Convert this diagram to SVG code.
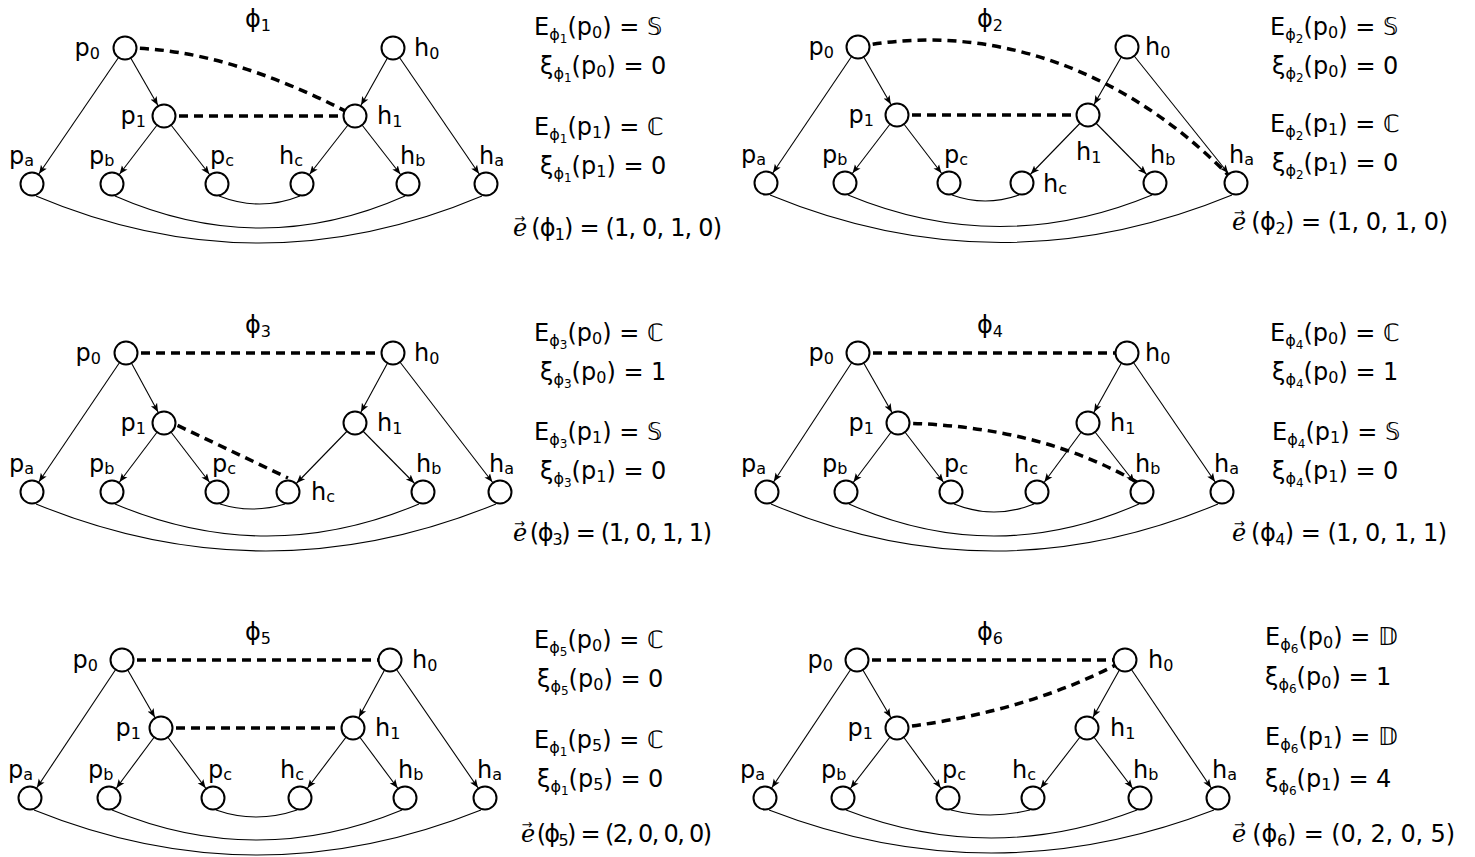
<svg xmlns="http://www.w3.org/2000/svg" width="1475" height="857" viewBox="0 0 1475 857">
<style>
  .t { font-family: "DejaVu Sans", "Noto Sans", sans-serif; font-size: 24px; fill: #000; }
  .s { font-size: 16px; }
  .ss { font-size: 12px; }
  .ev { font-family: "DejaVu Serif", "Liberation Serif", serif; font-style: italic; }
  .arw { font-family: "DejaVu Sans", sans-serif; font-size: 13px; }
  .n circle { fill: #fff; stroke: #000; stroke-width: 2; }
  .e { stroke: #000; stroke-width: 1.1; fill: none; marker-end: url(#arr); }
  .m { stroke: #000; stroke-width: 3.5; fill: none; stroke-dasharray: 9 6; }
  .b { stroke: #000; stroke-width: 1.1; fill: none; }
</style>
<defs>
  <marker id="arr" markerUnits="userSpaceOnUse" markerWidth="30" markerHeight="12" viewBox="0 -6 30 12" refX="21" refY="0" orient="auto">
    <path d="M0,-3.5 L8.5,0 L0,3.5 L2,0 Z" fill="#000"/>
  </marker>
</defs>

<!-- ===== connectors ===== -->
<g id="connectors">
  <!-- phi1 -->
  <line class="e" x1="125" y1="48" x2="32" y2="184"/>
  <line class="e" x1="125" y1="48" x2="164" y2="116"/>
  <line class="e" x1="164" y1="116" x2="112" y2="184"/>
  <line class="e" x1="164" y1="116" x2="217" y2="184"/>
  <line class="e" x1="393" y1="48" x2="355" y2="116"/>
  <line class="e" x1="393" y1="48" x2="486" y2="184"/>
  <line class="e" x1="355" y1="116" x2="302" y2="184"/>
  <line class="e" x1="355" y1="116" x2="408" y2="184"/>
  <path class="b" d="M36,196 Q259,290 482,196"/>
  <path class="b" d="M115,196 Q261,260 405,196"/>
  <path class="b" d="M219,196 Q260,212 300,196"/>
  <path class="m" d="M125,48 Q226,48 355,116"/>
  <path class="m" d="M164,116 L355,116"/>

  <!-- phi2 -->
  <line class="e" x1="858" y1="47" x2="766" y2="183"/>
  <line class="e" x1="858" y1="47" x2="897" y2="115"/>
  <line class="e" x1="897" y1="115" x2="845" y2="183"/>
  <line class="e" x1="897" y1="115" x2="949" y2="183"/>
  <line class="e" x1="1127" y1="47" x2="1088" y2="115"/>
  <line class="e" x1="1127" y1="47" x2="1236" y2="183"/>
  <line class="e" x1="1088" y1="115" x2="1022" y2="183"/>
  <line class="e" x1="1088" y1="115" x2="1155" y2="183"/>
  <path class="b" d="M770,195 Q1001,290 1232,195"/>
  <path class="b" d="M848,195 Q1000,258 1152,195"/>
  <path class="b" d="M952,195 Q985,207 1019,195"/>
  <path class="m" d="M858,47 C950,28 1100,40 1236,183"/>
  <path class="m" d="M897,115 L1088,115"/>

  <!-- phi3 -->
  <line class="e" x1="126" y1="353" x2="32" y2="492"/>
  <line class="e" x1="126" y1="353" x2="164" y2="423"/>
  <line class="e" x1="164" y1="423" x2="112" y2="492"/>
  <line class="e" x1="164" y1="423" x2="217" y2="492"/>
  <line class="e" x1="393" y1="353" x2="355" y2="423"/>
  <line class="e" x1="393" y1="353" x2="500" y2="492"/>
  <line class="e" x1="355" y1="423" x2="288" y2="492"/>
  <line class="e" x1="355" y1="423" x2="423" y2="492"/>
  <path class="b" d="M36,504 Q266,598 496,504"/>
  <path class="b" d="M115,504 Q267,568 419,504"/>
  <path class="b" d="M220,504 Q252,514 285,504"/>
  <path class="m" d="M126,353 L393,353"/>
  <path class="m" d="M164,419 L288,478"/>

  <!-- phi4 -->
  <line class="e" x1="858" y1="353" x2="767" y2="492"/>
  <line class="e" x1="858" y1="353" x2="898" y2="423"/>
  <line class="e" x1="898" y1="423" x2="846" y2="492"/>
  <line class="e" x1="898" y1="423" x2="951" y2="492"/>
  <line class="e" x1="1127" y1="353" x2="1088" y2="423"/>
  <line class="e" x1="1127" y1="353" x2="1222" y2="492"/>
  <line class="e" x1="1088" y1="423" x2="1037" y2="492"/>
  <line class="e" x1="1088" y1="423" x2="1142" y2="492"/>
  <path class="b" d="M771,504 Q994,598 1218,504"/>
  <path class="b" d="M849,504 Q994,568 1139,504"/>
  <path class="b" d="M954,504 Q994,520 1034,504"/>
  <path class="m" d="M858,353 L1127,353"/>
  <path class="m" d="M898,423 Q1040,425 1140,484"/>

  <!-- phi5 -->
  <line class="e" x1="122" y1="660" x2="30" y2="798"/>
  <line class="e" x1="122" y1="660" x2="161" y2="728"/>
  <line class="e" x1="161" y1="728" x2="109" y2="798"/>
  <line class="e" x1="161" y1="728" x2="213" y2="798"/>
  <line class="e" x1="390" y1="660" x2="353" y2="728"/>
  <line class="e" x1="390" y1="660" x2="485" y2="798"/>
  <line class="e" x1="353" y1="728" x2="300" y2="798"/>
  <line class="e" x1="353" y1="728" x2="405" y2="798"/>
  <path class="b" d="M34,810 Q257,900 481,810"/>
  <path class="b" d="M112,810 Q257,870 402,810"/>
  <path class="b" d="M216,810 Q256,824 297,810"/>
  <path class="m" d="M122,660 L390,660"/>
  <path class="m" d="M161,728 L353,728"/>

  <!-- phi6 -->
  <line class="e" x1="857" y1="660" x2="765" y2="798"/>
  <line class="e" x1="857" y1="660" x2="897" y2="728"/>
  <line class="e" x1="897" y1="728" x2="843" y2="798"/>
  <line class="e" x1="897" y1="728" x2="948" y2="798"/>
  <line class="e" x1="1125" y1="660" x2="1087" y2="728"/>
  <line class="e" x1="1125" y1="660" x2="1218" y2="798"/>
  <line class="e" x1="1087" y1="728" x2="1033" y2="798"/>
  <line class="e" x1="1087" y1="728" x2="1140" y2="798"/>
  <path class="b" d="M769,810 Q991,896 1214,810"/>
  <path class="b" d="M846,810 Q991,866 1137,810"/>
  <path class="b" d="M951,810 Q990,820 1030,810"/>
  <path class="m" d="M857,660 L1125,660"/>
  <path class="m" d="M897,728 Q1030,712 1125,660"/>
</g>

<!-- ===== phi1 ===== -->
<g id="phi1">
  <text class="t" x="258" y="27" text-anchor="middle">ϕ<tspan class="s" dy="4">1</tspan></text>
  <g id="phi1-p0" class="n"><circle cx="125" cy="48" r="11.5"/><text class="t" x="100" y="56" text-anchor="end">p<tspan class="s" dy="3">0</tspan></text></g>
  <g id="phi1-h0" class="n"><circle cx="393" cy="48" r="11.5"/><text class="t" x="414" y="56">h<tspan class="s" dy="3">0</tspan></text></g>
  <g id="phi1-p1" class="n"><circle cx="164" cy="116" r="11.5"/><text class="t" x="146" y="124" text-anchor="end">p<tspan class="s" dy="3">1</tspan></text></g>
  <g id="phi1-h1" class="n"><circle cx="355" cy="116" r="11.5"/><text class="t" x="377" y="124">h<tspan class="s" dy="3">1</tspan></text></g>
  <g id="phi1-pa" class="n"><circle cx="32" cy="184" r="11.5"/><text class="t" x="9" y="164">p<tspan class="s" dy="2">a</tspan></text></g>
  <g id="phi1-pb" class="n"><circle cx="112" cy="184" r="11.5"/><text class="t" x="89" y="164">p<tspan class="s" dy="2">b</tspan></text></g>
  <g id="phi1-pc" class="n"><circle cx="217" cy="184" r="11.5"/><text class="t" x="210" y="164">p<tspan class="s" dy="2">c</tspan></text></g>
  <g id="phi1-hc" class="n"><circle cx="302" cy="184" r="11.5"/><text class="t" x="279" y="164">h<tspan class="s" dy="2">c</tspan></text></g>
  <g id="phi1-hb" class="n"><circle cx="408" cy="184" r="11.5"/><text class="t" x="400" y="164">h<tspan class="s" dy="2">b</tspan></text></g>
  <g id="phi1-ha" class="n"><circle cx="486" cy="184" r="11.5"/><text class="t" x="479" y="164">h<tspan class="s" dy="2">a</tspan></text></g>
  <g id="phi1-eq" class="t">
    <text x="534" y="35">E<tspan class="s" dy="5">ϕ</tspan><tspan class="ss" dy="3">1</tspan><tspan dy="-8">(p</tspan><tspan class="s" dy="3">0</tspan><tspan dy="-3">) = 𝕊</tspan></text>
    <text x="540" y="74">ξ<tspan class="s" dy="5">ϕ</tspan><tspan class="ss" dy="3">1</tspan><tspan dy="-8">(p</tspan><tspan class="s" dy="3">0</tspan><tspan dy="-3">) = 0</tspan></text>
    <text x="534" y="135">E<tspan class="s" dy="5">ϕ</tspan><tspan class="ss" dy="3">1</tspan><tspan dy="-8">(p</tspan><tspan class="s" dy="3">1</tspan><tspan dy="-3">) = ℂ</tspan></text>
    <text x="540" y="174">ξ<tspan class="s" dy="5">ϕ</tspan><tspan class="ss" dy="3">1</tspan><tspan dy="-8">(p</tspan><tspan class="s" dy="3">1</tspan><tspan dy="-3">) = 0</tspan></text>
    <text x="513" y="236" textLength="209" lengthAdjust="spacing"><tspan class="ev">e</tspan><tspan class="arw" dx="-12" dy="-13">→</tspan><tspan dy="13"> (ϕ</tspan><tspan class="s" dy="4">1</tspan><tspan dy="-4">) = (1, 0, 1, 0)</tspan></text>
  </g>
</g>

<!-- ===== phi2 ===== -->
<g id="phi2">
  <text class="t" x="990" y="27" text-anchor="middle">ϕ<tspan class="s" dy="4">2</tspan></text>
  <g id="phi2-p0" class="n"><circle cx="858" cy="47" r="11.5"/><text class="t" x="834" y="55" text-anchor="end">p<tspan class="s" dy="3">0</tspan></text></g>
  <g id="phi2-h0" class="n"><circle cx="1127" cy="47" r="11.5"/><text class="t" x="1145" y="55">h<tspan class="s" dy="3">0</tspan></text></g>
  <g id="phi2-p1" class="n"><circle cx="897" cy="115" r="11.5"/><text class="t" x="874" y="123" text-anchor="end">p<tspan class="s" dy="3">1</tspan></text></g>
  <g id="phi2-h1" class="n"><circle cx="1088" cy="115" r="11.5"/><text class="t" x="1076" y="160">h<tspan class="s" dy="3">1</tspan></text></g>
  <g id="phi2-pa" class="n"><circle cx="766" cy="183" r="11.5"/><text class="t" x="741" y="163">p<tspan class="s" dy="2">a</tspan></text></g>
  <g id="phi2-pb" class="n"><circle cx="845" cy="183" r="11.5"/><text class="t" x="822" y="163">p<tspan class="s" dy="2">b</tspan></text></g>
  <g id="phi2-pc" class="n"><circle cx="949" cy="183" r="11.5"/><text class="t" x="944" y="163">p<tspan class="s" dy="2">c</tspan></text></g>
  <g id="phi2-hc" class="n"><circle cx="1022" cy="183" r="11.5"/><text class="t" x="1043" y="192">h<tspan class="s" dy="2">c</tspan></text></g>
  <g id="phi2-hb" class="n"><circle cx="1155" cy="183" r="11.5"/><text class="t" x="1150" y="163">h<tspan class="s" dy="2">b</tspan></text></g>
  <g id="phi2-ha" class="n"><circle cx="1236" cy="183" r="11.5"/><text class="t" x="1229" y="163">h<tspan class="s" dy="2">a</tspan></text></g>
  <g id="phi2-eq" class="t">
    <text x="1270" y="35">E<tspan class="s" dy="5">ϕ</tspan><tspan class="ss" dy="3">2</tspan><tspan dy="-8">(p</tspan><tspan class="s" dy="3">0</tspan><tspan dy="-3">) = 𝕊</tspan></text>
    <text x="1272" y="74">ξ<tspan class="s" dy="5">ϕ</tspan><tspan class="ss" dy="3">2</tspan><tspan dy="-8">(p</tspan><tspan class="s" dy="3">0</tspan><tspan dy="-3">) = 0</tspan></text>
    <text x="1270" y="132">E<tspan class="s" dy="5">ϕ</tspan><tspan class="ss" dy="3">2</tspan><tspan dy="-8">(p</tspan><tspan class="s" dy="3">1</tspan><tspan dy="-3">) = ℂ</tspan></text>
    <text x="1272" y="171">ξ<tspan class="s" dy="5">ϕ</tspan><tspan class="ss" dy="3">2</tspan><tspan dy="-8">(p</tspan><tspan class="s" dy="3">1</tspan><tspan dy="-3">) = 0</tspan></text>
    <text x="1232" y="230" textLength="216" lengthAdjust="spacing"><tspan class="ev">e</tspan><tspan class="arw" dx="-12" dy="-13">→</tspan><tspan dy="13"> (ϕ</tspan><tspan class="s" dy="4">2</tspan><tspan dy="-4">) = (1, 0, 1, 0)</tspan></text>
  </g>
</g>

<!-- ===== phi3 ===== -->
<g id="phi3">
  <text class="t" x="258" y="333" text-anchor="middle">ϕ<tspan class="s" dy="4">3</tspan></text>
  <g id="phi3-p0" class="n"><circle cx="126" cy="353" r="11.5"/><text class="t" x="101" y="361" text-anchor="end">p<tspan class="s" dy="3">0</tspan></text></g>
  <g id="phi3-h0" class="n"><circle cx="393" cy="353" r="11.5"/><text class="t" x="414" y="361">h<tspan class="s" dy="3">0</tspan></text></g>
  <g id="phi3-p1" class="n"><circle cx="164" cy="423" r="11.5"/><text class="t" x="146" y="431" text-anchor="end">p<tspan class="s" dy="3">1</tspan></text></g>
  <g id="phi3-h1" class="n"><circle cx="355" cy="423" r="11.5"/><text class="t" x="377" y="431">h<tspan class="s" dy="3">1</tspan></text></g>
  <g id="phi3-pa" class="n"><circle cx="32" cy="492" r="11.5"/><text class="t" x="9" y="472">p<tspan class="s" dy="2">a</tspan></text></g>
  <g id="phi3-pb" class="n"><circle cx="112" cy="492" r="11.5"/><text class="t" x="89" y="472">p<tspan class="s" dy="2">b</tspan></text></g>
  <g id="phi3-pc" class="n"><circle cx="217" cy="492" r="11.5"/><text class="t" x="212" y="472">p<tspan class="s" dy="2">c</tspan></text></g>
  <g id="phi3-hc" class="n"><circle cx="288" cy="492" r="11.5"/><text class="t" x="311" y="500">h<tspan class="s" dy="2">c</tspan></text></g>
  <g id="phi3-hb" class="n"><circle cx="423" cy="492" r="11.5"/><text class="t" x="416" y="472">h<tspan class="s" dy="2">b</tspan></text></g>
  <g id="phi3-ha" class="n"><circle cx="500" cy="492" r="11.5"/><text class="t" x="489" y="472">h<tspan class="s" dy="2">a</tspan></text></g>
  <g id="phi3-eq" class="t">
    <text x="534" y="341">E<tspan class="s" dy="5">ϕ</tspan><tspan class="ss" dy="3">3</tspan><tspan dy="-8">(p</tspan><tspan class="s" dy="3">0</tspan><tspan dy="-3">) = ℂ</tspan></text>
    <text x="540" y="380">ξ<tspan class="s" dy="5">ϕ</tspan><tspan class="ss" dy="3">3</tspan><tspan dy="-8">(p</tspan><tspan class="s" dy="3">0</tspan><tspan dy="-3">) = 1</tspan></text>
    <text x="534" y="440">E<tspan class="s" dy="5">ϕ</tspan><tspan class="ss" dy="3">3</tspan><tspan dy="-8">(p</tspan><tspan class="s" dy="3">1</tspan><tspan dy="-3">) = 𝕊</tspan></text>
    <text x="540" y="479">ξ<tspan class="s" dy="5">ϕ</tspan><tspan class="ss" dy="3">3</tspan><tspan dy="-8">(p</tspan><tspan class="s" dy="3">1</tspan><tspan dy="-3">) = 0</tspan></text>
    <text x="513" y="541" textLength="199" lengthAdjust="spacing"><tspan class="ev">e</tspan><tspan class="arw" dx="-12" dy="-13">→</tspan><tspan dy="13"> (ϕ</tspan><tspan class="s" dy="4">3</tspan><tspan dy="-4">) = (1, 0, 1, 1)</tspan></text>
  </g>
</g>

<!-- ===== phi4 ===== -->
<g id="phi4">
  <text class="t" x="990" y="333" text-anchor="middle">ϕ<tspan class="s" dy="4">4</tspan></text>
  <g id="phi4-p0" class="n"><circle cx="858" cy="353" r="11.5"/><text class="t" x="834" y="361" text-anchor="end">p<tspan class="s" dy="3">0</tspan></text></g>
  <g id="phi4-h0" class="n"><circle cx="1127" cy="353" r="11.5"/><text class="t" x="1145" y="361">h<tspan class="s" dy="3">0</tspan></text></g>
  <g id="phi4-p1" class="n"><circle cx="898" cy="423" r="11.5"/><text class="t" x="874" y="431" text-anchor="end">p<tspan class="s" dy="3">1</tspan></text></g>
  <g id="phi4-h1" class="n"><circle cx="1088" cy="423" r="11.5"/><text class="t" x="1110" y="431">h<tspan class="s" dy="3">1</tspan></text></g>
  <g id="phi4-pa" class="n"><circle cx="767" cy="492" r="11.5"/><text class="t" x="741" y="472">p<tspan class="s" dy="2">a</tspan></text></g>
  <g id="phi4-pb" class="n"><circle cx="846" cy="492" r="11.5"/><text class="t" x="822" y="472">p<tspan class="s" dy="2">b</tspan></text></g>
  <g id="phi4-pc" class="n"><circle cx="951" cy="492" r="11.5"/><text class="t" x="944" y="472">p<tspan class="s" dy="2">c</tspan></text></g>
  <g id="phi4-hc" class="n"><circle cx="1037" cy="492" r="11.5"/><text class="t" x="1014" y="472">h<tspan class="s" dy="2">c</tspan></text></g>
  <g id="phi4-hb" class="n"><circle cx="1142" cy="492" r="11.5"/><text class="t" x="1135" y="472">h<tspan class="s" dy="2">b</tspan></text></g>
  <g id="phi4-ha" class="n"><circle cx="1222" cy="492" r="11.5"/><text class="t" x="1214" y="472">h<tspan class="s" dy="2">a</tspan></text></g>
  <g id="phi4-eq" class="t">
    <text x="1270" y="341">E<tspan class="s" dy="5">ϕ</tspan><tspan class="ss" dy="3">4</tspan><tspan dy="-8">(p</tspan><tspan class="s" dy="3">0</tspan><tspan dy="-3">) = ℂ</tspan></text>
    <text x="1272" y="380">ξ<tspan class="s" dy="5">ϕ</tspan><tspan class="ss" dy="3">4</tspan><tspan dy="-8">(p</tspan><tspan class="s" dy="3">0</tspan><tspan dy="-3">) = 1</tspan></text>
    <text x="1272" y="440">E<tspan class="s" dy="5">ϕ</tspan><tspan class="ss" dy="3">4</tspan><tspan dy="-8">(p</tspan><tspan class="s" dy="3">1</tspan><tspan dy="-3">) = 𝕊</tspan></text>
    <text x="1272" y="479">ξ<tspan class="s" dy="5">ϕ</tspan><tspan class="ss" dy="3">4</tspan><tspan dy="-8">(p</tspan><tspan class="s" dy="3">1</tspan><tspan dy="-3">) = 0</tspan></text>
    <text x="1232" y="541" textLength="215" lengthAdjust="spacing"><tspan class="ev">e</tspan><tspan class="arw" dx="-12" dy="-13">→</tspan><tspan dy="13"> (ϕ</tspan><tspan class="s" dy="4">4</tspan><tspan dy="-4">) = (1, 0, 1, 1)</tspan></text>
  </g>
</g>

<!-- ===== phi5 ===== -->
<g id="phi5">
  <text class="t" x="258" y="640" text-anchor="middle">ϕ<tspan class="s" dy="4">5</tspan></text>
  <g id="phi5-p0" class="n"><circle cx="122" cy="660" r="11.5"/><text class="t" x="98" y="668" text-anchor="end">p<tspan class="s" dy="3">0</tspan></text></g>
  <g id="phi5-h0" class="n"><circle cx="390" cy="660" r="11.5"/><text class="t" x="412" y="668">h<tspan class="s" dy="3">0</tspan></text></g>
  <g id="phi5-p1" class="n"><circle cx="161" cy="728" r="11.5"/><text class="t" x="141" y="736" text-anchor="end">p<tspan class="s" dy="3">1</tspan></text></g>
  <g id="phi5-h1" class="n"><circle cx="353" cy="728" r="11.5"/><text class="t" x="375" y="736">h<tspan class="s" dy="3">1</tspan></text></g>
  <g id="phi5-pa" class="n"><circle cx="30" cy="798" r="11.5"/><text class="t" x="8" y="778">p<tspan class="s" dy="2">a</tspan></text></g>
  <g id="phi5-pb" class="n"><circle cx="109" cy="798" r="11.5"/><text class="t" x="88" y="778">p<tspan class="s" dy="2">b</tspan></text></g>
  <g id="phi5-pc" class="n"><circle cx="213" cy="798" r="11.5"/><text class="t" x="208" y="778">p<tspan class="s" dy="2">c</tspan></text></g>
  <g id="phi5-hc" class="n"><circle cx="300" cy="798" r="11.5"/><text class="t" x="280" y="778">h<tspan class="s" dy="2">c</tspan></text></g>
  <g id="phi5-hb" class="n"><circle cx="405" cy="798" r="11.5"/><text class="t" x="398" y="778">h<tspan class="s" dy="2">b</tspan></text></g>
  <g id="phi5-ha" class="n"><circle cx="485" cy="798" r="11.5"/><text class="t" x="477" y="778">h<tspan class="s" dy="2">a</tspan></text></g>
  <g id="phi5-eq" class="t">
    <text x="534" y="648">E<tspan class="s" dy="5">ϕ</tspan><tspan class="ss" dy="3">5</tspan><tspan dy="-8">(p</tspan><tspan class="s" dy="3">0</tspan><tspan dy="-3">) = ℂ</tspan></text>
    <text x="537" y="687">ξ<tspan class="s" dy="5">ϕ</tspan><tspan class="ss" dy="3">5</tspan><tspan dy="-8">(p</tspan><tspan class="s" dy="3">0</tspan><tspan dy="-3">) = 0</tspan></text>
    <text x="534" y="748">E<tspan class="s" dy="5">ϕ</tspan><tspan class="ss" dy="3">1</tspan><tspan dy="-8">(p</tspan><tspan class="s" dy="3">5</tspan><tspan dy="-3">) = ℂ</tspan></text>
    <text x="537" y="787">ξ<tspan class="s" dy="5">ϕ</tspan><tspan class="ss" dy="3">1</tspan><tspan dy="-8">(p</tspan><tspan class="s" dy="3">5</tspan><tspan dy="-3">) = 0</tspan></text>
    <text x="521" y="842" textLength="191" lengthAdjust="spacing"><tspan class="ev">e</tspan><tspan class="arw" dx="-12" dy="-13">→</tspan><tspan dy="13"> (ϕ</tspan><tspan class="s" dy="4">5</tspan><tspan dy="-4">) = (2, 0, 0, 0)</tspan></text>
  </g>
</g>

<!-- ===== phi6 ===== -->
<g id="phi6">
  <text class="t" x="990" y="640" text-anchor="middle">ϕ<tspan class="s" dy="4">6</tspan></text>
  <g id="phi6-p0" class="n"><circle cx="857" cy="660" r="11.5"/><text class="t" x="833" y="668" text-anchor="end">p<tspan class="s" dy="3">0</tspan></text></g>
  <g id="phi6-h0" class="n"><circle cx="1125" cy="660" r="11.5"/><text class="t" x="1148" y="668">h<tspan class="s" dy="3">0</tspan></text></g>
  <g id="phi6-p1" class="n"><circle cx="897" cy="728" r="11.5"/><text class="t" x="873" y="736" text-anchor="end">p<tspan class="s" dy="3">1</tspan></text></g>
  <g id="phi6-h1" class="n"><circle cx="1087" cy="728" r="11.5"/><text class="t" x="1110" y="736">h<tspan class="s" dy="3">1</tspan></text></g>
  <g id="phi6-pa" class="n"><circle cx="765" cy="798" r="11.5"/><text class="t" x="740" y="778">p<tspan class="s" dy="2">a</tspan></text></g>
  <g id="phi6-pb" class="n"><circle cx="843" cy="798" r="11.5"/><text class="t" x="821" y="778">p<tspan class="s" dy="2">b</tspan></text></g>
  <g id="phi6-pc" class="n"><circle cx="948" cy="798" r="11.5"/><text class="t" x="942" y="778">p<tspan class="s" dy="2">c</tspan></text></g>
  <g id="phi6-hc" class="n"><circle cx="1033" cy="798" r="11.5"/><text class="t" x="1012" y="778">h<tspan class="s" dy="2">c</tspan></text></g>
  <g id="phi6-hb" class="n"><circle cx="1140" cy="798" r="11.5"/><text class="t" x="1133" y="778">h<tspan class="s" dy="2">b</tspan></text></g>
  <g id="phi6-ha" class="n"><circle cx="1218" cy="798" r="11.5"/><text class="t" x="1212" y="778">h<tspan class="s" dy="2">a</tspan></text></g>
  <g id="phi6-eq" class="t">
    <text x="1265" y="645">E<tspan class="s" dy="5">ϕ</tspan><tspan class="ss" dy="3">6</tspan><tspan dy="-8">(p</tspan><tspan class="s" dy="3">0</tspan><tspan dy="-3">) = 𝔻</tspan></text>
    <text x="1265" y="685">ξ<tspan class="s" dy="5">ϕ</tspan><tspan class="ss" dy="3">6</tspan><tspan dy="-8">(p</tspan><tspan class="s" dy="3">0</tspan><tspan dy="-3">) = 1</tspan></text>
    <text x="1265" y="745">E<tspan class="s" dy="5">ϕ</tspan><tspan class="ss" dy="3">6</tspan><tspan dy="-8">(p</tspan><tspan class="s" dy="3">1</tspan><tspan dy="-3">) = 𝔻</tspan></text>
    <text x="1265" y="787">ξ<tspan class="s" dy="5">ϕ</tspan><tspan class="ss" dy="3">6</tspan><tspan dy="-8">(p</tspan><tspan class="s" dy="3">1</tspan><tspan dy="-3">) = 4</tspan></text>
    <text x="1232" y="842" textLength="223" lengthAdjust="spacing"><tspan class="ev">e</tspan><tspan class="arw" dx="-12" dy="-13">→</tspan><tspan dy="13"> (ϕ</tspan><tspan class="s" dy="4">6</tspan><tspan dy="-4">) = (0, 2, 0, 5)</tspan></text>
  </g>
</g>
</svg>
